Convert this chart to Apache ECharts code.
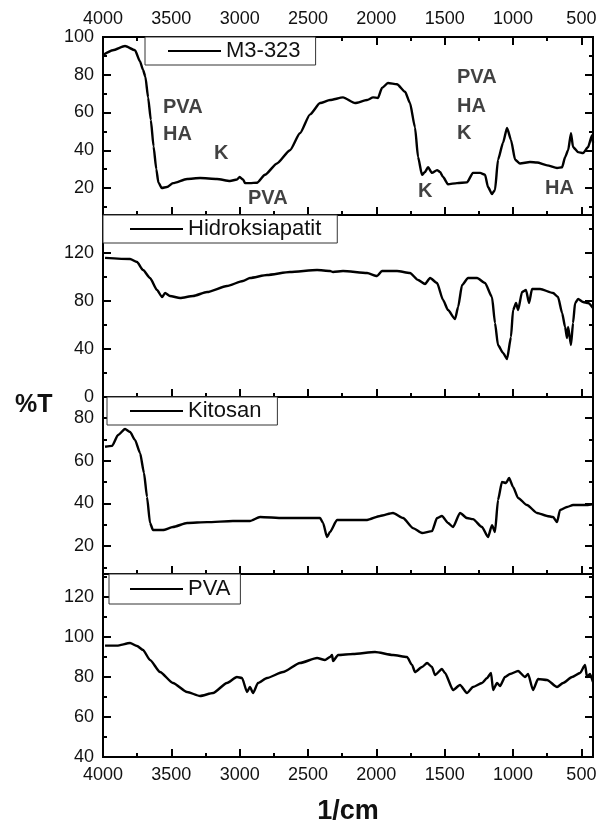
<!DOCTYPE html>
<html>
<head>
<meta charset="utf-8">
<script src="https://cdn.jsdelivr.net/npm/echarts@6.0.0/dist/echarts.min.js"></script>
<style>
  html, body { margin: 0; padding: 0; background: #fff; }
  #chart { width: 599px; height: 829px; }
</style>
</head>
<body>
<div id="chart"></div>
<script>
// FTIR spectra, wavenumber (1/cm) vs transmittance (%T)
const m3Wavenumber = [4000, 3927, 3839, 3766, 3729, 3707, 3690, 3670, 3650, 3630, 3610, 3595, 3570, 3532, 3488, 3385, 3290, 3166, 3071, 3020, 3000, 2975, 2961, 2925, 2873, 2815, 2727, 2632, 2559, 2485, 2412, 2339, 2244, 2156, 2068, 2024, 1988, 1959, 1915, 1849, 1790, 1754, 1717, 1695, 1666, 1644, 1622, 1593, 1556, 1534, 1512, 1476, 1410, 1337, 1293, 1241, 1205, 1183, 1154, 1132, 1110, 1073, 1044, 1015, 985, 949, 876, 824, 751, 678, 641, 619, 597, 576, 561, 524, 488, 451, 422, 415];
const m3Transmittance = [90.5, 93, 95.2, 93, 87, 82.5, 79, 68, 56, 42, 30, 23, 20, 20.5, 22.6, 24.8, 25.3, 24.8, 23.7, 24.5, 25.8, 24.5, 22.6, 22.6, 22.8, 27, 33, 40, 49, 59, 65, 66.6, 68, 65, 66.6, 68, 67.7, 73, 75.6, 75, 71, 65, 52, 36.4, 27, 28.5, 31, 28, 29.5, 28.5, 25.8, 22, 22.6, 23, 28, 28, 27, 20.5, 16.8, 19, 35, 44, 51.8, 45.5, 35, 33, 33.8, 33.5, 32, 30.6, 31, 36.4, 40, 49, 41.7, 39, 38.5, 41.7, 48, 44];

const haWavenumber = [3985, 3802, 3751, 3707, 3656, 3605, 3568, 3546, 3510, 3436, 3341, 3239, 3093, 2976, 2925, 2800, 2632, 2434, 2339, 2317, 2244, 2068, 1995, 1959, 1849, 1754, 1695, 1644, 1607, 1556, 1512, 1476, 1424, 1402, 1373, 1329, 1263, 1205, 1154, 1132, 1110, 1073, 1044, 1015, 1000, 978, 963, 934, 905, 883, 861, 802, 707, 671, 641, 619, 605, 597, 576, 561, 546, 524, 488, 451, 415];
const haTransmittance = [116, 115, 112.5, 105.8, 99.2, 89.2, 83.3, 86.7, 84.2, 82.5, 84.2, 87.5, 92.5, 96.7, 99.2, 101.7, 104.2, 105.8, 105, 104.2, 105, 103.3, 100.8, 105, 105, 103.3, 97.5, 94.2, 99.2, 95, 80.8, 72.5, 65, 75, 93.3, 99.2, 99.2, 95, 83.3, 61.7, 43.3, 36.7, 31.7, 50, 72.5, 78.3, 72.5, 87.5, 89.2, 78.3, 90, 90, 86.7, 83.3, 70, 58.3, 49.2, 58.3, 43.3, 61.7, 78.3, 81.7, 79.2, 78.3, 74.2];

const kitosanWavenumber = [3985, 3934, 3890, 3839, 3802, 3766, 3729, 3700, 3678, 3656, 3634, 3561, 3488, 3385, 3239, 3049, 2925, 2851, 2683, 2412, 2390, 2361, 2339, 2288, 2068, 1973, 1878, 1805, 1732, 1666, 1593, 1556, 1520, 1476, 1439, 1388, 1337, 1293, 1227, 1183, 1154, 1132, 1110, 1081, 1051, 1029, 1000, 963, 898, 824, 751, 707, 678, 656, 605, 561, 459, 415];
const kitosanTransmittance = [66.5, 66.9, 72, 74.8, 73.4, 69.7, 63.6, 54.2, 43, 30.8, 27.5, 27.5, 28.9, 30.8, 31.2, 31.7, 31.7, 33.6, 33.1, 33.1, 30.8, 24.2, 26.6, 32.2, 32.2, 34.1, 35.5, 33.1, 28.4, 26.1, 27, 33.1, 34.1, 30.8, 28.9, 35.5, 33.1, 32.6, 28.9, 24.2, 29.8, 26.6, 41.6, 50, 49.5, 51.9, 47.7, 42.5, 39.2, 35.5, 34.1, 33.6, 31.2, 36.9, 38.3, 39.2, 39.2, 39.7];

const pvaWavenumber = [3985, 3898, 3802, 3751, 3707, 3656, 3583, 3488, 3385, 3290, 3195, 3093, 3020, 2983, 2946, 2925, 2902, 2866, 2800, 2683, 2559, 2434, 2376, 2339, 2324, 2317, 2280, 2171, 2010, 1878, 1776, 1739, 1717, 1666, 1629, 1593, 1571, 1520, 1498, 1439, 1388, 1337, 1293, 1227, 1190, 1161, 1146, 1117, 1095, 1059, 1022, 963, 912, 890, 854, 817, 751, 678, 634, 568, 510, 473, 459, 437, 415];
const pvaTransmittance = [95.7, 95.7, 97, 95.5, 93.5, 88.5, 82.5, 77, 72.5, 70.5, 72, 77, 80, 79.5, 72.5, 75, 72, 77, 79.5, 82.5, 87, 89.5, 88.5, 90, 91, 88, 91, 91.5, 92.5, 91, 90, 86, 82.5, 85, 87, 85, 81, 84, 82, 73.5, 76, 72, 75, 77, 79.5, 82, 73.5, 77, 75.5, 80, 81.5, 83, 80, 81.5, 73.5, 79, 78.5, 75, 77, 80, 82, 86, 80, 81.5, 77.5];

// tick values
const xMajorTicks = [4000, 3500, 3000, 2500, 2000, 1500, 1000, 500];
const xMinorTicks = [3750, 3250, 2750, 2250, 1750, 1250, 750];

// band labels in the top panel: [wavenumber, %T, text]
const bandLabels = [
  [3561, 62.4, 'PVA'],
  [3561, 48.1, 'HA'],
  [3188, 38.5, 'K'],
  [2939, 14.2, 'PVA'],
  [1410, 78.3, 'PVA'],
  [1410, 63.4, 'HA'],
  [1410, 49.1, 'K'],
  [1695, 18.4, 'K'],
  [766, 20.0, 'HA']
];

const FONT = '"Liberation Sans", Arial, sans-serif';
const X_MIN = 415, X_MAX = 4000;

const panels = [
  { name: 'M3-323', wn: m3Wavenumber, t: m3Transmittance, top: 37, bottom: 215, min: 5.7, max: 100,
    major: [20, 40, 60, 80, 100], minor: [10, 30, 50, 70, 90], legendLeft: 145, legendPad: [3, 15, 3, 23] },
  { name: 'Hidroksiapatit', wn: haWavenumber, t: haTransmittance, top: 215, bottom: 397, min: 0, max: 151.7,
    major: [0, 40, 80, 120], minor: [20, 60, 100, 140], legendLeft: 103, legendPad: [3, 16, 3, 27] },
  { name: 'Kitosan', wn: kitosanWavenumber, t: kitosanTransmittance, top: 397, bottom: 574, min: 6.9, max: 89.8,
    major: [20, 40, 60, 80], minor: [10, 30, 50, 70], legendLeft: 107, legendPad: [3, 16, 3, 23] },
  { name: 'PVA', wn: pvaWavenumber, t: pvaTransmittance, top: 574, bottom: 757, min: 40, max: 131.5,
    major: [40, 60, 80, 100, 120], minor: [50, 70, 90, 110, 130], legendLeft: 109, legendPad: [4, 10, 4, 21] }
];

const labelStyle = { fontSize: 18, color: '#111', fontFamily: FONT, formatter: (v) => String(v) };

function xAxis(gridIndex, position, values, len, showLabels) {
  return {
    type: 'value', gridIndex, position, inverse: true, min: X_MIN, max: X_MAX,
    axisLine: { show: false },
    splitLine: { show: false },
    axisTick: { show: true, inside: true, length: len, customValues: values, lineStyle: { color: '#000', width: 2 } },
    axisLabel: Object.assign({ show: showLabels, customValues: values, margin: 9 }, labelStyle)
  };
}

function yAxis(gridIndex, p, position, values, len, showLabels) {
  return {
    type: 'value', gridIndex, position, min: p.min, max: p.max,
    axisLine: { show: false },
    splitLine: { show: false },
    axisTick: { show: true, inside: true, length: len, customValues: values, lineStyle: { color: '#000', width: 2 } },
    axisLabel: Object.assign({ show: showLabels, customValues: values, margin: 9 }, labelStyle)
  };
}

const grids = [], xAxes = [], yAxes = [], series = [], legends = [];

panels.forEach((p, i) => {
  grids.push({
    left: 103, width: 490, top: p.top, height: p.bottom - p.top,
    containLabel: false, outerBoundsMode: 'none',
    show: true, borderColor: '#000', borderWidth: 2, backgroundColor: 'transparent'
  });

  const isLast = i === panels.length - 1;
  const mainX = xAxes.length;
  xAxes.push(xAxis(i, 'bottom', xMajorTicks, 8, isLast));
  xAxes.push(xAxis(i, 'bottom', xMinorTicks, 4, false));
  if (i === 0) {
    xAxes.push(xAxis(i, 'top', xMajorTicks, 8, true));
    xAxes.push(xAxis(i, 'top', xMinorTicks, 4, false));
  }
  if (isLast) {
    Object.assign(xAxes[mainX], {
      name: '1/cm', nameLocation: 'middle', nameGap: 41,
      nameTextStyle: { fontSize: 27, fontWeight: 'bold', color: '#111', fontFamily: FONT }
    });
  }

  const mainY = yAxes.length;
  yAxes.push(yAxis(i, p, 'left', p.major, 8, true));
  yAxes.push(yAxis(i, p, 'left', p.minor, 4, false));
  yAxes.push(yAxis(i, p, 'right', p.major, 8, false));
  yAxes.push(yAxis(i, p, 'right', p.minor, 4, false));

  series.push({
    type: 'line', name: p.name, xAxisIndex: mainX, yAxisIndex: mainY,
    data: p.wn.map((w, k) => [w, p.t[k]]),
    showSymbol: false, color: '#000', smooth: 0.2, smoothMonotone: 'x',
    lineStyle: { color: '#000', width: 2.4 }
  });

  if (i === 0) {
    series.push({
      type: 'scatter', name: 'bands', xAxisIndex: mainX, yAxisIndex: mainY,
      data: bandLabels, symbolSize: 0, silent: true, clip: false,
      label: {
        show: true, position: 'right', distance: 0,
        formatter: (d) => d.data[2],
        fontSize: 20, fontWeight: 'bold', color: '#111', fontFamily: FONT
      }
    });
  }

  legends.push({
    data: [p.name], left: p.legendLeft, top: p.top, padding: p.legendPad,
    orient: 'horizontal', icon: 'rect', itemWidth: 53, itemHeight: 2,
    selectedMode: false, borderColor: '#333', borderWidth: 1, backgroundColor: '#fff',
    textStyle: { fontSize: 22, color: '#111', fontFamily: FONT }
  });
});

const chart = echarts.init(document.getElementById('chart'), null, { renderer: 'canvas' });
chart.setOption({
  animation: false,
  backgroundColor: '#fff',
  grid: grids,
  xAxis: xAxes,
  yAxis: yAxes,
  legend: legends,
  series: series,
  graphic: [{
    type: 'text', left: 15, top: 393,
    style: { text: '%T', font: 'bold 25px ' + FONT, fill: '#111' }
  }]
});
</script>
</body>
</html>
